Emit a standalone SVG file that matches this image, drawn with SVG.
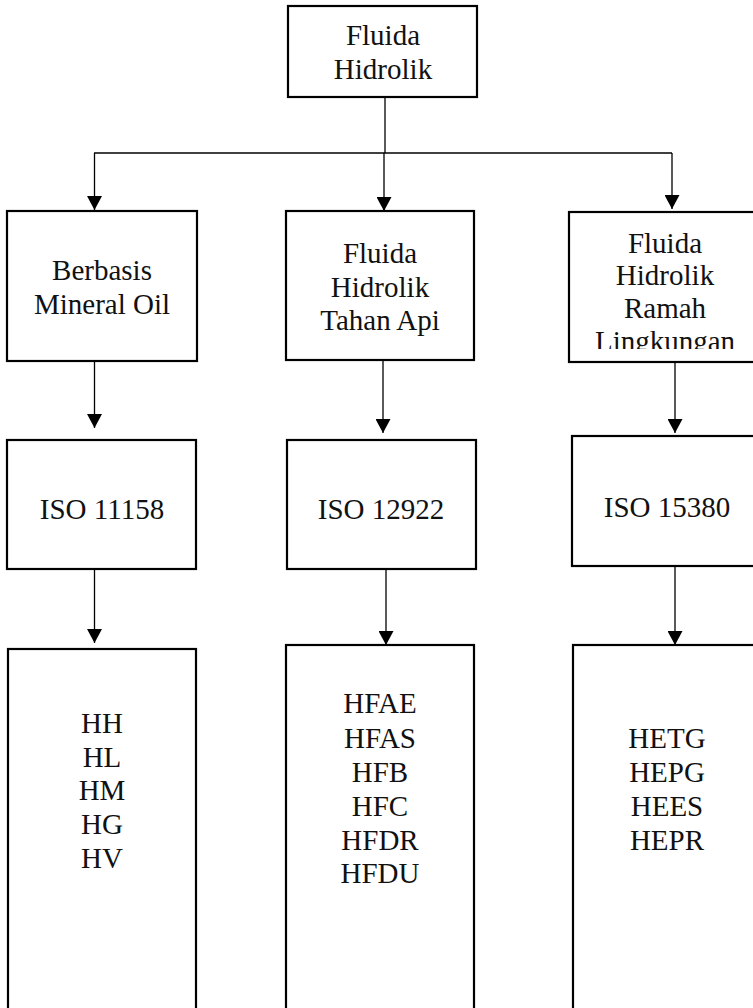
<svg xmlns="http://www.w3.org/2000/svg" width="753" height="1008" viewBox="0 0 753 1008">
<style>
.box{fill:#fff;stroke:#000;stroke-width:2.2}
.t{font-family:'Liberation Serif','Tinos','DejaVu Serif',serif;font-size:29px;fill:#111;text-anchor:middle}
.c{stroke:#000;stroke-width:1.3;fill:none}
</style>
<defs>
<marker id="ah" markerUnits="userSpaceOnUse" markerWidth="15" markerHeight="15" viewBox="0 0 14 15" refX="14" refY="7.5" orient="auto">
<path d="M0,0 L14,7.5 L0,15 z" fill="#000"/>
</marker>
<clipPath id="clip3"><rect x="570" y="213" width="190" height="136"/></clipPath>
</defs>
<rect width="753" height="1008" fill="#fff"/>
<g id="connectors">
<line class="c" x1="385" y1="97" x2="385" y2="153"/>
<line class="c" x1="94" y1="153" x2="672" y2="153"/>
<line class="c" x1="94.5" y1="153" x2="94.5" y2="210" marker-end="url(#ah)"/>
<line class="c" x1="384" y1="153" x2="384" y2="211" marker-end="url(#ah)"/>
<line class="c" x1="672" y1="153" x2="672" y2="209" marker-end="url(#ah)"/>
<line class="c" x1="94.5" y1="361" x2="94.5" y2="428" marker-end="url(#ah)"/>
<line class="c" x1="383" y1="360" x2="383" y2="433" marker-end="url(#ah)"/>
<line class="c" x1="675" y1="362" x2="675" y2="433" marker-end="url(#ah)"/>
<line class="c" x1="94.5" y1="569" x2="94.5" y2="643" marker-end="url(#ah)"/>
<line class="c" x1="386" y1="569" x2="386" y2="645" marker-end="url(#ah)"/>
<line class="c" x1="675" y1="566" x2="675" y2="645" marker-end="url(#ah)"/>
</g>
<g id="root">
<rect class="box" x="288" y="6" width="189" height="91"/>
<text class="t" font-family="Liberation Serif" x="383" y="45">Fluida</text>
<text class="t" x="383" y="79">Hidrolik</text>
</g>
<g id="mineral">
<rect class="box" x="7" y="211" width="190" height="150"/>
<text class="t" x="102" y="280">Berbasis</text>
<text class="t" x="102" y="314">Mineral Oil</text>
</g>
<g id="tahan-api">
<rect class="box" x="286" y="211" width="188" height="149"/>
<text class="t" x="380" y="263">Fluida</text>
<text class="t" x="380" y="297">Hidrolik</text>
<text class="t" x="380" y="330">Tahan Api</text>
</g>
<g id="ramah">
<rect class="box" x="569" y="212" width="200" height="150"/>
<g clip-path="url(#clip3)">
<text class="t" x="665" y="253">Fluida</text>
<text class="t" x="665" y="285">Hidrolik</text>
<text class="t" x="665" y="318">Ramah</text>
<text class="t" x="665" y="351">Lingkungan</text>
</g>
</g>
<g id="iso11158">
<rect class="box" x="7" y="440" width="189" height="129"/>
<text class="t" x="102" y="519">ISO 11158</text>
</g>
<g id="iso12922">
<rect class="box" x="287" y="440" width="189" height="129"/>
<text class="t" x="381" y="519">ISO 12922</text>
</g>
<g id="iso15380">
<rect class="box" x="572" y="436" width="200" height="130"/>
<text class="t" x="667" y="517">ISO 15380</text>
</g>
<g id="types-mineral">
<rect class="box" x="8" y="649" width="188" height="380"/>
<text class="t" x="102" y="733">HH</text>
<text class="t" x="102" y="767">HL</text>
<text class="t" x="102" y="800">HM</text>
<text class="t" x="102" y="834">HG</text>
<text class="t" x="102" y="868">HV</text>
</g>
<g id="types-tahan-api">
<rect class="box" x="286" y="645" width="188" height="380"/>
<text class="t" x="380" y="713">HFAE</text>
<text class="t" x="380" y="748">HFAS</text>
<text class="t" x="380" y="782">HFB</text>
<text class="t" x="380" y="816">HFC</text>
<text class="t" x="380" y="850">HFDR</text>
<text class="t" x="380" y="883">HFDU</text>
</g>
<g id="types-ramah">
<rect class="box" x="573" y="645" width="200" height="380"/>
<text class="t" x="667" y="748">HETG</text>
<text class="t" x="667" y="782">HEPG</text>
<text class="t" x="667" y="816">HEES</text>
<text class="t" x="667" y="850">HEPR</text>
</g>
</svg>
